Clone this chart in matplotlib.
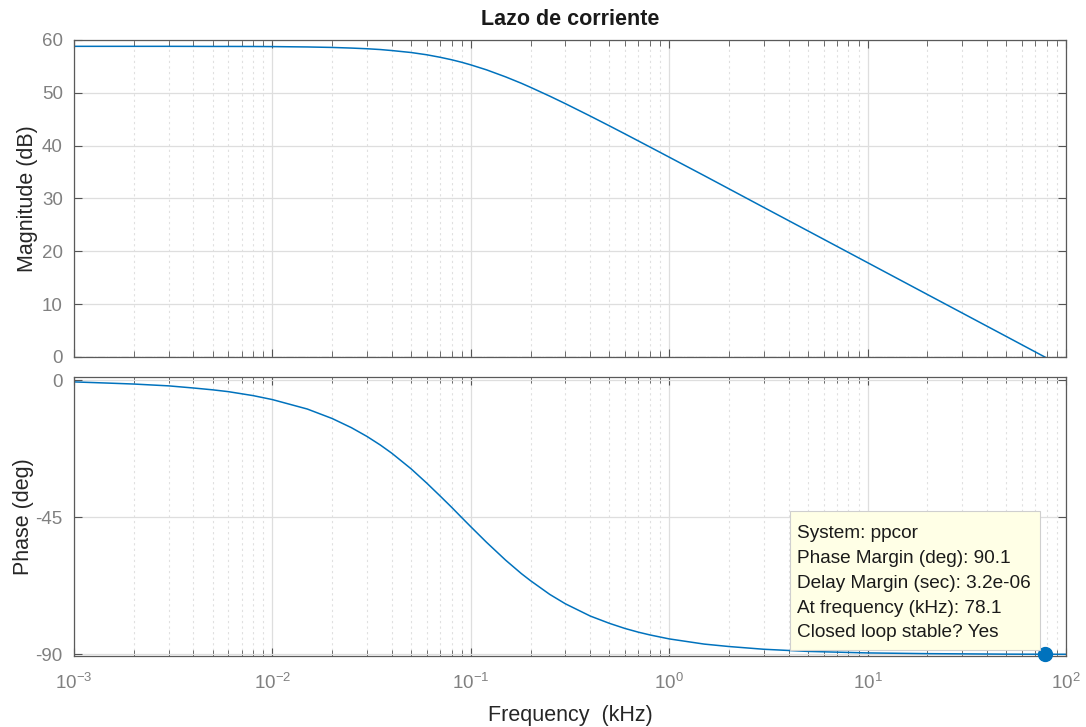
import matplotlib
matplotlib.use("Agg")
from matplotlib import pyplot as plt
from matplotlib.patches import Rectangle
from matplotlib.ticker import LogLocator, NullFormatter

plt.rcParams['font.family'] = ['Liberation Sans', 'DejaVu Sans']
plt.rcParams['axes.unicode_minus'] = False
plt.rcParams['mathtext.fontset'] = 'custom'
plt.rcParams['mathtext.rm'] = 'Liberation Sans'

# valores (frecuencia en kHz)
freq = [0.001, 0.0015, 0.002, 0.003, 0.004, 0.005, 0.006, 0.008, 0.01, 0.015,
        0.02, 0.025, 0.03, 0.035, 0.04, 0.05, 0.06, 0.07, 0.08, 0.09, 0.1,
        0.12, 0.15, 0.18, 0.2, 0.25, 0.3, 0.4, 0.5, 0.6, 0.7, 0.8, 1, 1.5,
        2, 3, 5, 10, 20, 50, 78.1, 100]
mag_db = [58.8, 58.8, 58.8, 58.8, 58.79, 58.78, 58.78, 58.77, 58.75, 58.68,
          58.59, 58.47, 58.34, 58.19, 58.0, 57.63, 57.2, 56.73, 56.26, 55.78, 55.29,
          54.35, 53.01, 51.8, 51.04, 49.37, 47.94, 45.6, 43.74, 42.2, 40.88, 39.74, 37.82, 34.33,
          31.83, 28.3, 23.87, 17.85, 11.83, 3.88, 0.0, -2.15]
phase_deg = [-0.6, -1.0, -1.3, -1.9, -2.6, -3.2, -3.8, -5.1, -6.4, -9.5,
             -12.6, -15.6, -18.5, -21.3, -24.0, -29.1, -33.8, -38.0, -41.7, -45.1, -48.1,
             -53.2, -59.1, -63.5, -65.8, -70.3, -73.4, -77.4, -79.8, -81.5, -82.7, -83.6, -84.9, -86.6,
             -87.4, -88.3, -89.0, -89.5, -89.74, -89.9, -89.93, -89.95]

pm_freq = 78.1
pm_phase = -89.9
tip_lines = ["System: ppcor",
             "Phase Margin (deg): 90.1",
             "Delay Margin (sec): 3.2e-06",
             "At frequency (kHz): 78.1",
             "Closed loop stable? Yes"]

azul = '#0072BD'
gris_tick = '#808080'
gris_txt = '#262626'

fig = plt.figure(figsize=(10.86, 7.27), dpi=100)
ax1 = fig.add_axes([0.0681, 0.509, 0.9135, 0.436])
ax2 = fig.add_axes([0.0681, 0.0977, 0.9135, 0.3837])

for ax in (ax1, ax2):
    ax.set_xscale('log')
    ax.set_xlim(1e-3, 1e2)
    ax.xaxis.set_major_locator(LogLocator(base=10, numticks=10))
    ax.xaxis.set_minor_locator(LogLocator(base=10, subs=range(2, 10), numticks=100))
    ax.xaxis.set_minor_formatter(NullFormatter())
    ax.grid(True, which='major', color='#dedede', linewidth=0.9)
    ax.grid(True, which='minor', axis='x', color='#e0e0e0', linestyle=(0, (2, 3)), linewidth=0.8)
    ax.tick_params(which='both', direction='in', top=True, right=True, colors='#555555',
                   labelcolor=gris_tick, labelsize=13.5)
    ax.tick_params(which='major', length=6)
    ax.tick_params(which='minor', length=4)
    ax.tick_params(axis='y', pad=8)
    ax.tick_params(axis='x', pad=12)
    for s in ax.spines.values():
        s.set_color('#5a5a5a')
        s.set_linewidth(0.9)
    ax.set_axisbelow(True)

ax1.plot(freq, mag_db, color=azul, linewidth=1.1)
ax1.axhline(0, color='#333333', linestyle='-.', linewidth=0.8)
ax1.set_ylim(0, 60)
ax1.set_yticks([0, 10, 20, 30, 40, 50, 60])
ax1.tick_params(axis='x', labelbottom=False)
ax1.set_ylabel('Magnitude (dB)', fontsize=15.5, color=gris_txt)
ax1.yaxis.set_label_coords(-0.036, 0.5)
ax1.set_title('Lazo de corriente', fontsize=15.5, fontweight='bold', color='#1a1a1a', pad=11)

ax2.plot(freq, phase_deg, color=azul, linewidth=1.1)
ax2.plot([pm_freq], [pm_phase], 'o', color=azul, markersize=10, zorder=5, clip_on=False)
ax2.set_ylim(-90.5, 1)
ax2.set_yticks([0, -45, -90])
ax2.set_ylabel('Phase (deg)', fontsize=15.5, color=gris_txt)
ax2.yaxis.set_label_coords(-0.040, 0.5)
ax2.set_xlabel('Frequency  (kHz)', fontsize=15.5, color=gris_txt, labelpad=9)

# cuadro del datatip
fig.patches.append(Rectangle((0.7274, 0.1059), 0.2302, 0.1912, transform=fig.transFigure,
                             facecolor='#ffffe6', edgecolor='#cfcfcf', linewidth=0.8, zorder=6))
fig.text(0.7339, 0.2775, "\n".join(tip_lines), fontsize=13.7, color='#1a1a1a',
         va='top', ha='left', linespacing=1.6, zorder=7)

fig.savefig('out.png', dpi=100)
